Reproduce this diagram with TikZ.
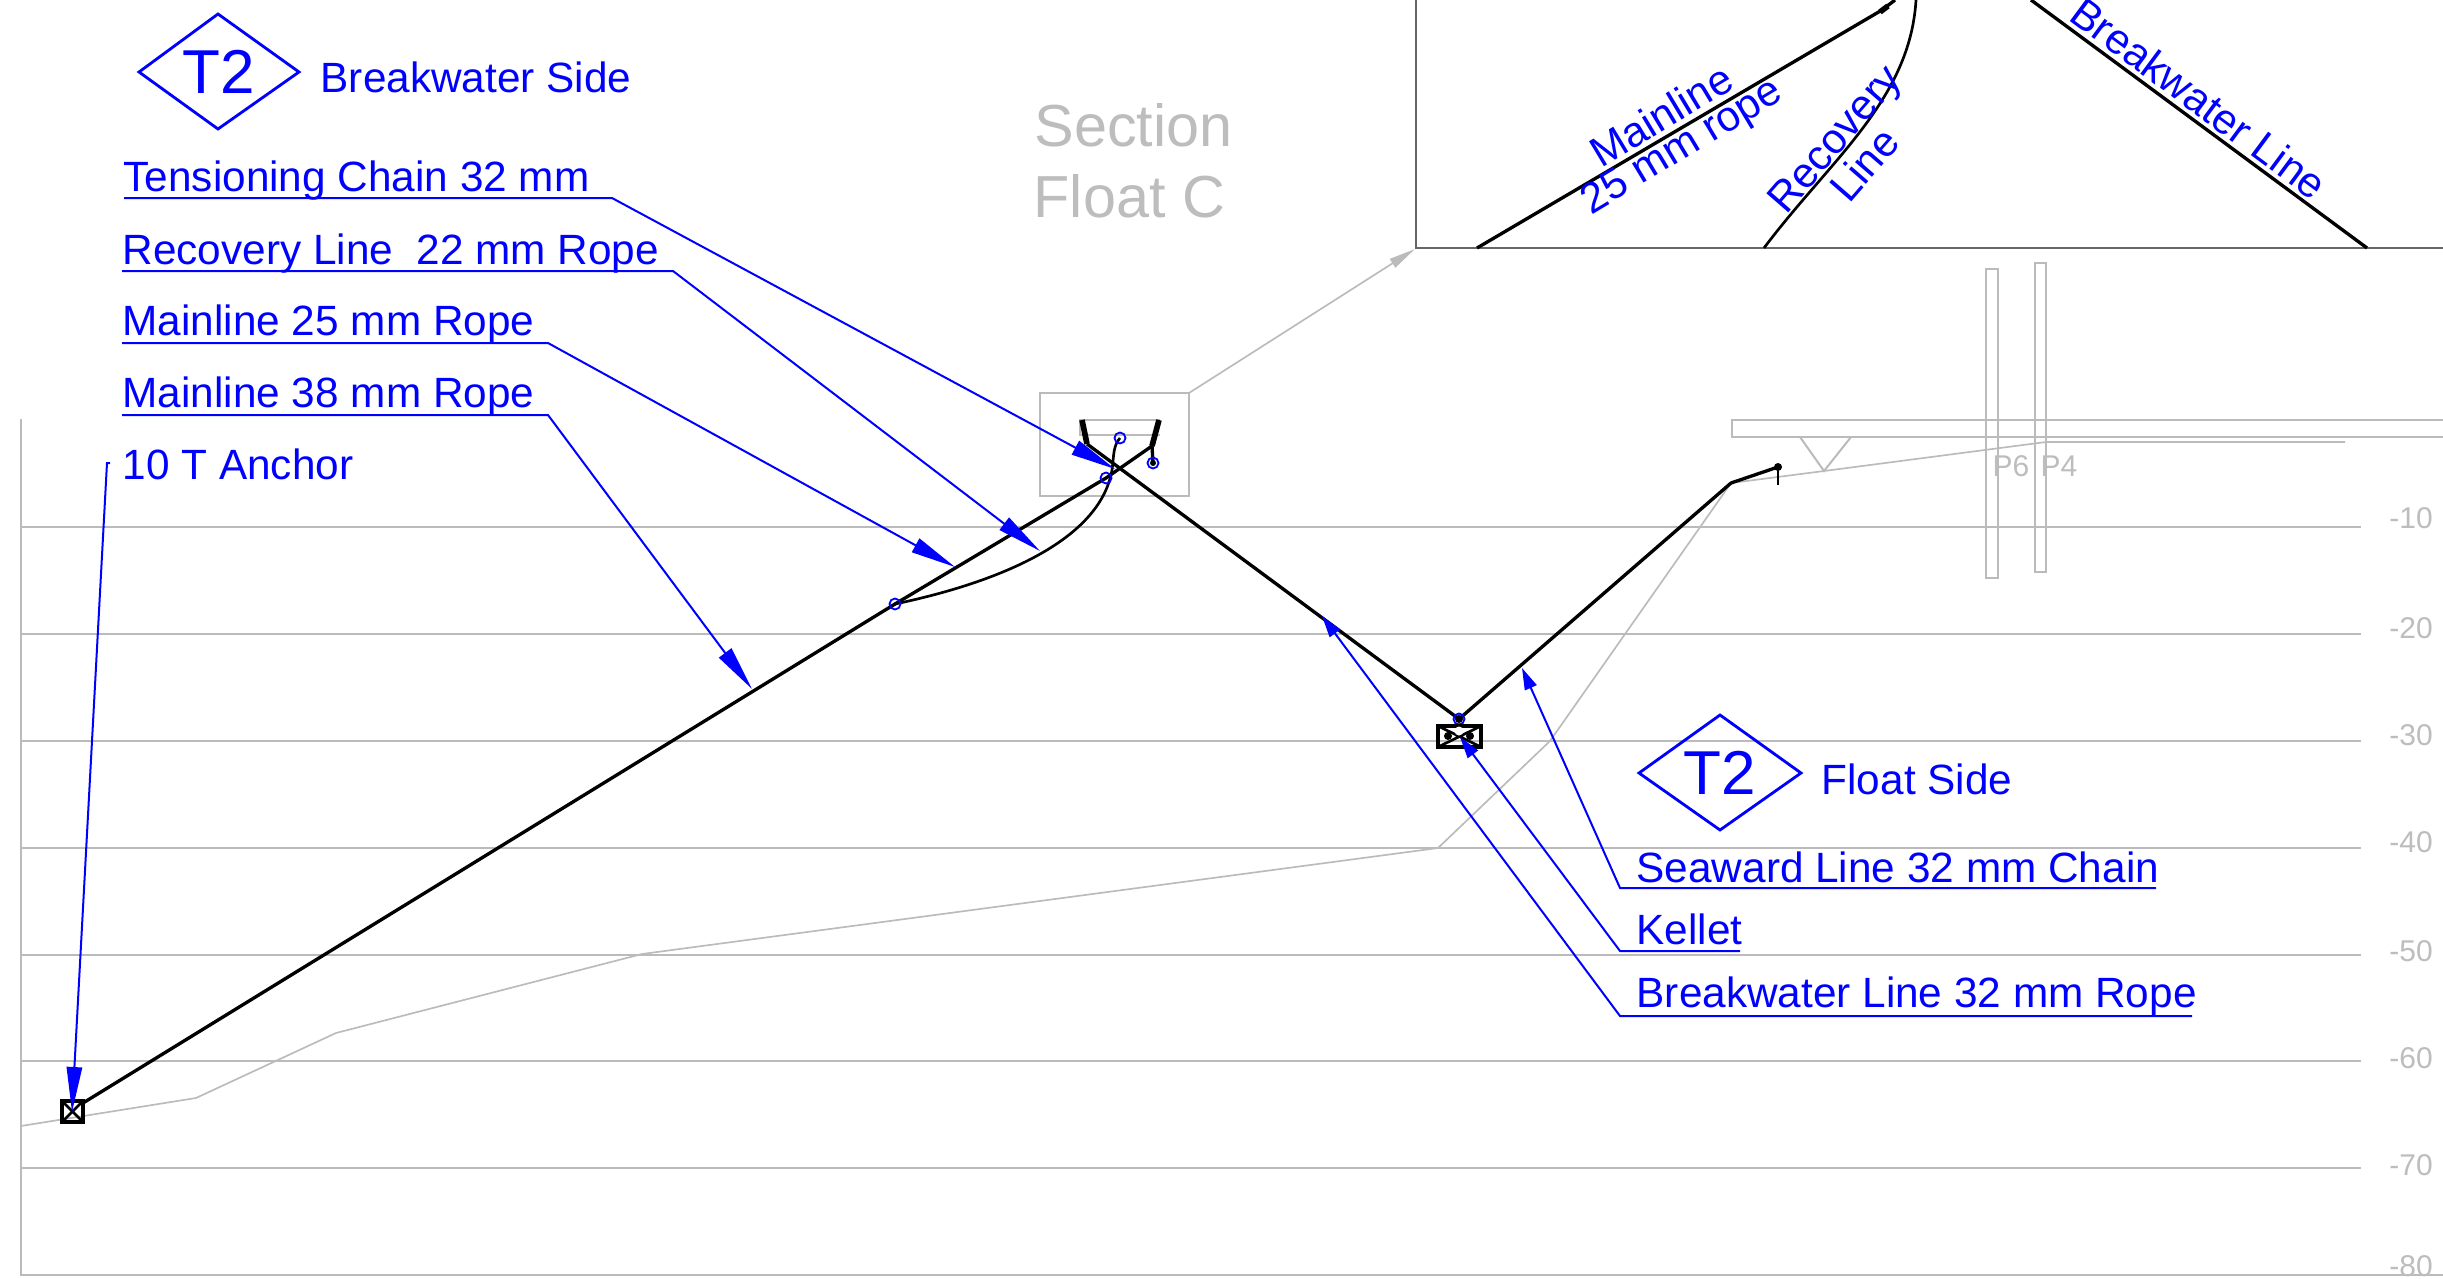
\documentclass[tikz,border=0pt]{standalone}
\usepackage{fontspec}
\setmainfont{Liberation Sans}
\usetikzlibrary{arrows.meta}
\definecolor{lgray}{HTML}{BBBBBB}
\definecolor{tgray}{HTML}{BDBDBD}
\definecolor{dgray}{HTML}{666666}
\definecolor{pblue}{HTML}{0000FF}
\tikzset{
  grid/.style={draw=lgray,line width=.6pt},
  thin gray/.style={draw=lgray,line width=.5pt},
  rope/.style={draw=black,line width=1pt},
  box rope/.style={draw=black,line width=1.2pt},
  thick rope/.style={draw=black,line width=1.7pt},
  fine rope/.style={draw=black,line width=.8pt},
  leader/.style={draw=pblue,line width=.6pt,-{Triangle[length=13.5pt,width=4.6pt]}},
  short leader/.style={draw=pblue,line width=.6pt,-{Triangle[length=6.5pt,width=3.8pt]}},
  lbl/.style={text=pblue,inner sep=0pt,anchor=base west,font=\fontsize{12.7}{15}\selectfont},
  inset lbl/.style={text=pblue,inner sep=0pt,font=\fontsize{12.7}{15}\selectfont},
  depth lbl/.style={text=tgray,inner sep=0pt,font=\fontsize{9}{11}\selectfont},
  title lbl/.style={text=tgray,inner sep=0pt,anchor=base west,font=\fontsize{17.8}{21}\selectfont},
  tag/.style={text=pblue,inner sep=0pt,font=\fontsize{18.6}{22}\selectfont},
  tag box/.style={draw=pblue,line width=.85pt,line join=miter},
  ring/.style={draw=pblue,line width=.55pt,fill=none}
}
\begin{document}
\begin{tikzpicture}[x=.3pt,y=-.3pt]
\useasboundingbox (0,0) rectangle (2443,1279);
\fill[white] (0,0) rectangle (2443,1279);

% depth grid
\foreach \yy in {527,634,741,848,955,1061,1168} \draw[grid] (21,\yy) -- (2361,\yy);
\draw[grid] (21,419) -- (21,1275) -- (2443,1275);
\node[depth lbl] (d10) at (2411,518) {-10};
\node[depth lbl] (d20) at (2411,628) {-20};
\node[depth lbl] (d30) at (2411,735) {-30};
\node[depth lbl] (d40) at (2411,842) {-40};
\node[depth lbl] (d50) at (2411,951) {-50};
\node[depth lbl] (d60) at (2411,1058) {-60};
\node[depth lbl] (d70) at (2411,1165) {-70};
\node[depth lbl] (d80) at (2411,1266) {-80};

% seabed
\draw[thin gray,line join=round] (21,1126) -- (196,1098) -- (336,1033) -- (642,954) -- (1438,848) -- (1550,741) -- (1731,483) -- (1824,471) -- (2046,442) -- (2345,442);

% float and piles
\draw[grid] (2443,420) -- (1732,420) -- (1732,437) -- (2443,437);
\draw[grid] (1800,437) -- (1824,471) -- (1851,437);
\draw[grid] (1986,269) rectangle (1998,578);
\draw[grid] (2035,263) rectangle (2046,572);
\node[depth lbl] (p6) at (2011,466) {P6};
\node[depth lbl] (p4) at (2059,466) {P4};

% section box
\coordinate (boxcorner) at (1189,393);
\coordinate (insetcorner) at (1415,249);
\draw[grid] (1040,393) rectangle (1189,496);
\draw[grid] (1160,420) -- (1080,420) -- (1080,435) -- (1160,435);
\draw[draw=lgray,line width=.5pt,-{Triangle[length=8pt,width=3pt]}] (boxcorner) -- (insetcorner);
\node[title lbl] (sec) at (1034,146) {Section};
\node[title lbl] (flc) at (1033,217) {Float C};

% inset
\draw[draw=dgray,line width=.5pt] (1416,0) -- (1416,248) -- (2443,248);
\draw[rope] (1477,248) -- (1882,10) -- (1895,0);
\draw[thick rope] (1880,12) -- (1888,6);
\draw[fine rope] (1764,248) .. controls (1830,160) and (1910,100) .. (1916,0);
\draw[rope] (2031,0) -- (2367,248);
\node[inset lbl,rotate=31] (i1) at (1661,115) {Mainline};
\node[inset lbl,rotate=31] (i2) at (1683,148) {25 mm rope};
\node[inset lbl,rotate=49] (i3) at (1837,141) {Recovery};
\node[inset lbl,rotate=49] (i4) at (1864,164) {Line};
\node[inset lbl,rotate=-36.5] (i5) at (2199,98) {Breakwater Line};

% mooring lines
\coordinate (anchortop) at (83,1103);
\coordinate (junction) at (895,604);
\coordinate (crossm) at (1106,478);
\coordinate (leftb) at (1087,444);
\coordinate (rightb) at (1152,446);
\coordinate (kelletc) at (1459,719);
\coordinate (floatk) at (1731,483);
\coordinate (floate) at (1778,467);
\draw[rope] (anchortop) -- (junction) -- (crossm) -- (rightb);
\draw[rope] (leftb) -- (kelletc) -- (floatk) -- (floate);
\draw[thick rope] (1082,420) -- (leftb);
\draw[thick rope] (1159,420) -- (rightb);
\draw[rope] (rightb) -- (1153,463);
\draw[fine rope] (junction) .. controls (1000,582) and (1100,540) .. (1112,470) .. controls (1114,455) and (1113,446) .. (1120,438);
\draw[fine rope] (floate) -- (1778,485);
\fill[black] (floate) circle[radius=4];
\fill[black] (kelletc) circle[radius=4];
\fill[black] (1153,463) circle[radius=3];
\draw[ring] (junction) circle[radius=5.5];
\draw[ring] (crossm) circle[radius=5.5];
\draw[ring] (1120,438) circle[radius=5.5];
\draw[ring] (1153,463) circle[radius=5.5];
\draw[ring] (kelletc) circle[radius=5.5];

% anchor
\draw[box rope] (62,1101) rectangle (83,1122);
\draw[fine rope] (62,1101) -- (83,1122) (83,1101) -- (62,1122);

% kellet
\draw[box rope] (1438,726) rectangle (1481,747);
\draw[fine rope] (1438,726) -- (1481,747) (1481,726) -- (1438,747);
\fill[black] (1448,736) circle[radius=4];
\fill[black] (1470,736) circle[radius=4];
\fill[white] (1459,731) circle[radius=4.5];

% tags
\draw[tag box] (139,72) -- (218,14) -- (299,72) -- (218,129) -- cycle;
\node[tag] (t1) at (219,72) {T2};
\node[lbl] (t1s) at (320,93) {Breakwater Side};
\draw[tag box] (1639,773) -- (1720,715) -- (1801,773) -- (1720,830) -- cycle;
\node[tag] (t2) at (1720,773) {T2};
\node[lbl] (t2s) at (1821,794) {Float Side};

% labels
\node[lbl] (l1) at (123,191) {Tensioning Chain 32 mm};
\node[lbl] (l2) at (122,264) {Recovery Line\ \ 22 mm Rope};
\node[lbl] (l3) at (122,335) {Mainline 25 mm Rope};
\node[lbl] (l4) at (122,407) {Mainline 38 mm Rope};
\node[lbl] (l5) at (122,479) {10 T Anchor};
\node[lbl] (l6) at (1636,882) {Seaward Line 32 mm Chain};
\node[lbl] (l7) at (1636,944) {Kellet};
\node[lbl] (l8) at (1636,1007) {Breakwater Line 32 mm Rope};

\coordinate (tip1) at (1115,469);
\coordinate (tip2) at (1040,551);
\coordinate (tip3) at (955,567);
\coordinate (tip4) at (752,689);
\coordinate (tip5) at (72,1112);
\coordinate (tip6) at (1522,668);
\coordinate (tip7) at (1460,737);
\coordinate (tip8) at (1322,616);
\draw[leader] (124,198) -- (612,198) -- (tip1);
\draw[leader] (122,271) -- (673,271) -- (tip2);
\draw[leader] (122,343) -- (548,343) -- (tip3);
\draw[leader] (122,415) -- (548,415) -- (tip4);
\draw[leader] (110,463) -- (107,463) -- (tip5);
\draw[short leader] (2156,888) -- (1620,888) -- (tip6);
\draw[short leader] (1740,951) -- (1620,951) -- (tip7);
\draw[short leader] (2192,1016) -- (1620,1016) -- (tip8);
\end{tikzpicture}
\end{document}
